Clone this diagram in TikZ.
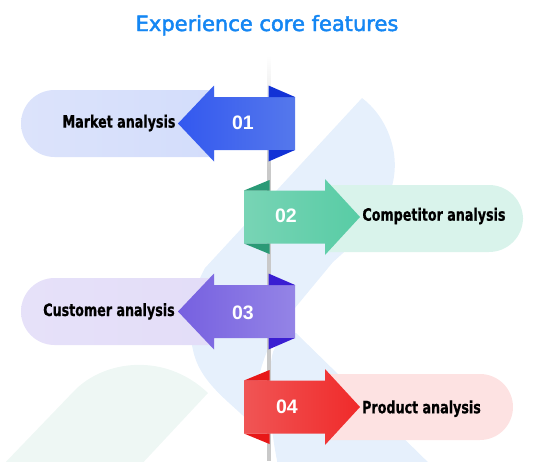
\documentclass[tikz,border=0pt]{standalone}
\usepackage{fontspec}
\newfontfamily\titlefont[FakeBold=2.2]{DejaVu Sans}
\newfontfamily\labfont[FakeStretch=0.83,FakeBold=0.6]{DejaVu Sans Condensed}
\newfontfamily\numfont{Liberation Sans}
\definecolor{titleblue}{HTML}{1486F3}
\definecolor{bgblue}{HTML}{E6F0FC}
\definecolor{bggreen}{HTML}{EEF7F4}
\definecolor{linegray}{HTML}{C9C9C9}
\definecolor{pillA}{HTML}{D3DDFB}
\definecolor{pillAl}{HTML}{DCE3FB}
\definecolor{arrAl}{HTML}{3358EF}
\definecolor{arrAr}{HTML}{5578EC}
\definecolor{triA}{HTML}{1232D6}
\definecolor{pillB}{HTML}{D9F3EB}
\definecolor{arrBl}{HTML}{78D4B5}
\definecolor{arrBr}{HTML}{58CCA5}
\definecolor{triB}{HTML}{2A9A76}
\definecolor{pillC}{HTML}{E3DDF8}
\definecolor{pillCl}{HTML}{E6E1F9}
\definecolor{arrCl}{HTML}{7660E0}
\definecolor{arrCr}{HTML}{9484E6}
\definecolor{triC}{HTML}{3A1ED2}
\definecolor{pillD}{HTML}{FDE2E2}
\definecolor{arrDl}{HTML}{F05555}
\definecolor{arrDr}{HTML}{F02A2A}
\definecolor{triD}{HTML}{E81818}
\newcommand\myLarrow[4]{%
  \path[left color=#2, right color=#3] (295,#1-26.5) -- (214,#1-26.5) -- (214,#1-38) -- (178,#1) -- (214,#1+38) -- (214,#1+26.5) -- (295,#1+26.5) -- cycle;
  \fill[#4] (268.5,#1-38) -- (295,#1-26.5) -- (268.5,#1-26.5) -- cycle;
  \fill[#4] (268.5,#1+38) -- (295,#1+26.5) -- (268.5,#1+26.5) -- cycle;
}
\newcommand\myRarrow[4]{%
  \path[left color=#2, right color=#3] (244,#1-26.5) -- (325,#1-26.5) -- (325,#1-38) -- (360,#1) -- (325,#1+38) -- (325,#1+26.5) -- (244,#1+26.5) -- cycle;
  \fill[#4] (269.5,#1-37) -- (244,#1-26.5) -- (269.5,#1-26.5) -- cycle;
  \fill[#4] (269.5,#1+37) -- (244,#1+26.5) -- (269.5,#1+26.5) -- cycle;
}
\begin{document}
\begin{tikzpicture}[x=1pt,y=-1pt,
  labtxt/.style={inner sep=0pt, anchor=base, text=black, font=\labfont\bfseries\fontsize{17}{20}\selectfont},
  numtxt/.style={inner sep=0pt, anchor=base, text=white, font=\numfont\bfseries\fontsize{19.5}{22}\selectfont}]
\useasboundingbox (0,0) rectangle (536,461);
% background decoration
\begin{scope}
\clip (0,0) rectangle (536,461);
\fill[bggreen] (0,468) -- (75,390) .. controls (105,360) and (165,352) .. (208,393) -- (138,468) -- cycle;
\fill[bgblue] (362,98) .. controls (386,116) and (400,150) .. (393,182)
  .. controls (386,215) and (360,238) .. (333,262) -- (285,320)
  .. controls (262,350) and (255,385) .. (252,425)
  .. controls (235,405) and (200,385) .. (193,350)
  .. controls (187,325) and (190,295) .. (205,268) -- cycle;
\fill[bgblue] (296,333) -- (436,470) -- (279,470) .. controls (270,430) and (266,380) .. (273,352) .. controls (278,340) and (288,332) .. (296,333) -- cycle;
\end{scope}
% vertical line (only between the arrow bodies)
\begin{scope}
\clip (260,50) rectangle (280,97.5) (260,149.5) rectangle (280,191) (260,243) rectangle (280,285.5)
      (260,337.5) rectangle (280,381) (260,433) rectangle (280,461);
\shade[top color=white, bottom color=linegray] (267,55) rectangle (270.5,170);
\fill[linegray] (267,170) rectangle (270.5,461);
\end{scope}
% pills
\path[left color=pillAl, right color=pillA] (214,157) -- (214,90) [rounded corners=33.5pt] -- (21,90) -- (21,157) [sharp corners] -- cycle;
\fill[pillB] (325,185) [rounded corners=34pt] -- (523,185) -- (523,252) [sharp corners] -- (325,252) -- cycle;
\path[left color=pillCl, right color=pillC] (214,345) -- (214,278) [rounded corners=33.5pt] -- (21,278) -- (21,345) [sharp corners] -- cycle;
\fill[pillD] (325,374) [rounded corners=33pt] -- (513,374) -- (513,440) [sharp corners] -- (325,440) -- cycle;
% arrows
\myLarrow{123.5}{arrAl}{arrAr}{triA}
\myRarrow{217}{arrBl}{arrBr}{triB}
\myLarrow{311.5}{arrCl}{arrCr}{triC}
\myRarrow{407}{arrDl}{arrDr}{triD}
% texts
\node[inner sep=0pt, anchor=base, text=titleblue, font=\titlefont\fontsize{21}{24}\selectfont] (title) at (267,31) {Experience core features};
\node[labtxt] (lab1) at (119,127.6) {Market analysis};
\node[labtxt] (lab2) at (434,220.7) {Competitor analysis};
\node[labtxt] (lab3) at (109,316) {Customer analysis};
\node[labtxt] (lab4) at (421.5,413.3) {Product analysis};
\node[numtxt] (num1) at (243,129.3) {01};
\node[numtxt] (num2) at (286,222.7) {02};
\node[numtxt] (num3) at (243,319.3) {03};
\node[numtxt] (num4) at (287,413.3) {04};
\end{tikzpicture}
\end{document}
